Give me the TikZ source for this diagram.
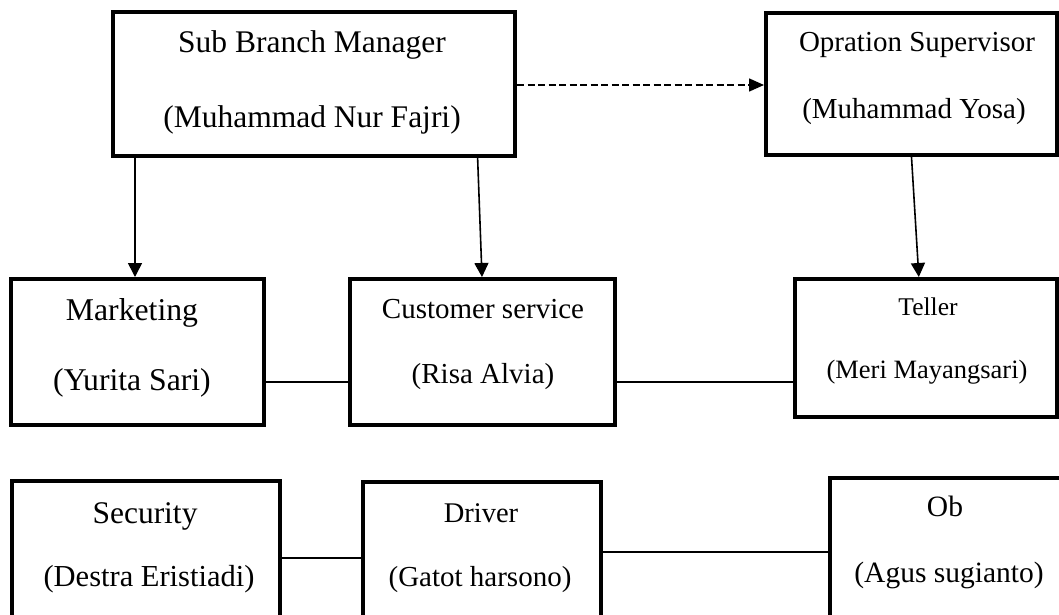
\documentclass[tikz,border=0pt]{standalone}
\usepackage{fontspec}
\setmainfont{Liberation Serif}
\usetikzlibrary{arrows.meta,calc}
\tikzset{
  box/.style={draw=black, line width=4pt, rectangle, inner sep=0pt, fill=white},
  conn/.style={draw=black, line width=1.6pt},
  arr/.style={conn, -{Triangle[length=14pt,width=14pt]}},
  dasharr/.style={conn, dash pattern=on 7pt off 3.5pt, -{Triangle[length=15pt,width=13pt]}},
  lbl/.style={anchor=base, inner sep=0pt},
}
\newcommand{\fs}[1]{\fontsize{#1}{#1}\selectfont}
\begin{document}
\begin{tikzpicture}[x=1pt,y=-1pt]
\useasboundingbox (0,0) rectangle (1059,615);
\clip (0,0) rectangle (1059,615);
\fill[white] (0,0) rectangle (1059,615);
% boxes
\node[box, minimum width=402pt, minimum height=144pt] (sbm) at (314,84) {};
\node[box, minimum width=291pt, minimum height=142pt] (os) at (911.5,84) {};
\node[box, minimum width=253pt, minimum height=146pt] (mkt) at (137.5,352) {};
\node[box, minimum width=265pt, minimum height=146pt] (cs) at (482.5,352) {};
\node[box, minimum width=262pt, minimum height=138pt] (tel) at (926,348) {};
\node[box, minimum width=268pt, minimum height=160pt] (sec) at (146,561) {};
\node[box, minimum width=238pt, minimum height=160pt] (drv) at (482,562) {};
\node[box, minimum width=234pt, minimum height=160pt] (ob) at (947,558) {};
% labels
\node[lbl] (sbm1) at (312,53) {\fs{31.5}Sub Branch Manager};
\node[lbl] (sbm2) at (312,128) {\fs{31.5}(Muhammad Nur Fajri)};
\node[lbl] (os1) at (917,52) {\fs{29}Opration Supervisor};
\node[lbl] (os2) at (914,118) {\fs{29}(Muhammad Yosa)};
\node[lbl] (mkt1) at (132,320) {\fs{31.7}Marketing};
\node[lbl] (mkt2) at (132,390) {\fs{31.7}(Yurita Sari)};
\node[lbl] (cs1) at (483,318) {\fs{29}Customer service};
\node[lbl] (cs2) at (483,383) {\fs{29}(Risa Alvia)};
\node[lbl] (tel1) at (928,315) {\fs{25.5}Teller};
\node[lbl] (tel2) at (927,378) {\fs{26.5}(Meri Mayangsari)};
\node[lbl] (sec1) at (145,523) {\fs{31.5}Security};
\node[lbl] (sec2) at (149,586) {\fs{30.5}(Destra Eristiadi)};
\node[lbl] (drv1) at (481,522) {\fs{28.5}Driver};
\node[lbl] (drv2) at (480,586) {\fs{29}(Gatot harsono)};
\node[lbl] (ob1) at (945,516) {\fs{29.5}Ob};
\node[lbl] (ob2) at (949,582) {\fs{29.5}(Agus sugianto)};
% connectors
\draw[arr] (sbm.south -| mkt1.south) ++(3,0) coordinate (a1) -- (a1 |- mkt.north);
\draw[arr] ($(sbm.south west)!0.903!(sbm.south east)$) -- ([xshift=-0.5pt]cs.north);
\draw[arr] ($(os.south west)!0.5!(os.south east)$) -- ($(tel.north west)!0.473!(tel.north east)$);
\draw[dasharr] (sbm.east |- 0,85) -- (os.west |- 0,85);
\draw[conn] (mkt.east |- 0,382) -- (cs.west |- 0,382);
\draw[conn] (cs.east |- 0,382) -- (tel.west |- 0,382);
\draw[conn] (sec.east |- 0,558) -- (drv.west |- 0,558);
\draw[conn] (drv.east |- 0,552) -- (ob.west |- 0,552);
\end{tikzpicture}
\end{document}
